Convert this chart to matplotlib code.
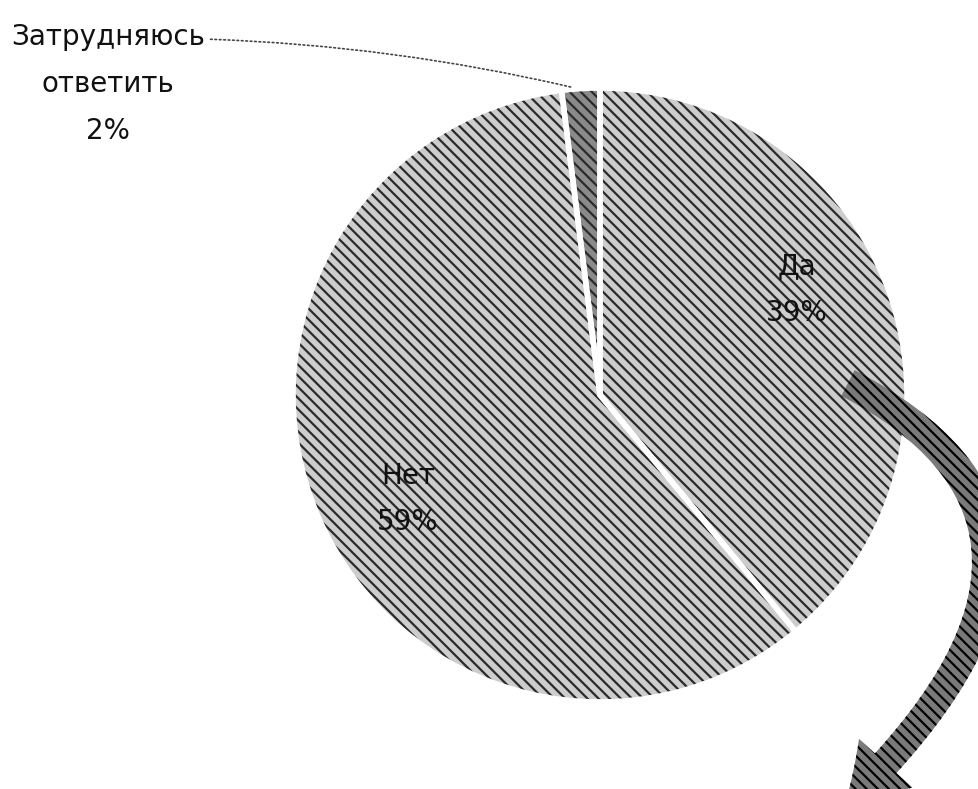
import matplotlib
matplotlib.use("Agg")
import matplotlib.pyplot as plt
from matplotlib.patches import FancyArrowPatch
from matplotlib.path import Path

# Data
categories = ["Да", "Нет", "Затрудняюсь\nответить"]
values = [39, 59, 2]
face_colors = ["#cdcdcd", "#cdcdcd", "#8a8a8a"]

W, H = 979, 789
plt.rcParams['font.family'] = ['DejaVu Sans']
plt.rcParams['hatch.linewidth'] = 1.6

fig = plt.figure(figsize=(W / 100, H / 100), dpi=100)
ax = fig.add_axes([0, 0, 1, 1])

def Y(y):
    return H - y

cx, cy, r = 600, Y(395), 307

# hatched fills
ax.pie(values, startangle=90, counterclock=False, center=(cx, cy), radius=r,
       colors=face_colors, frame=True,
       wedgeprops=dict(edgecolor='#2a2a2a', linewidth=0, hatch='\\\\\\'))
# white separators
ax.pie(values, startangle=90, counterclock=False, center=(cx, cy), radius=r,
       colors=['none'] * len(values), frame=True,
       wedgeprops=dict(edgecolor='white', linewidth=4, fill=False))
ax.set_xlim(0, W)
ax.set_ylim(0, H)
ax.set_aspect('equal')
ax.axis('off')

# labels
fs = 20
ls = 1.85
ax.text(797, Y(290), f"{categories[0]}\n{values[0]}%", ha='center', va='center',
        fontsize=fs, color='#111111', linespacing=ls)
ax.text(408, Y(499), f"{categories[1]}\n{values[1]}%", ha='center', va='center',
        fontsize=fs, color='#111111', linespacing=ls)
ax.annotate(f"{categories[2]}\n{values[2]}%", xy=(575, Y(88)), xytext=(108, Y(84)),
            ha='center', va='center', fontsize=fs, color='#111111', linespacing=ls,
            arrowprops=dict(arrowstyle='-', linestyle=':', color='#444444', lw=1.2,
                            relpos=(1.0, 0.87),
                            connectionstyle='arc3,rad=-0.05'))

# curved arrow (decorative)
arrow_path = Path([(848, Y(383)), (1130, Y(530)), (845, Y(805))],
                  [Path.MOVETO, Path.CURVE3, Path.CURVE3])
arrow = FancyArrowPatch(path=arrow_path,
                        arrowstyle='simple,head_width=52,head_length=42,tail_width=21',
                        facecolor='#7a7a7a', edgecolor='black', linewidth=0,
                        hatch='\\\\\\', clip_on=False)
ax.add_patch(arrow)

fig.savefig("out.png", dpi=100, facecolor='white')
